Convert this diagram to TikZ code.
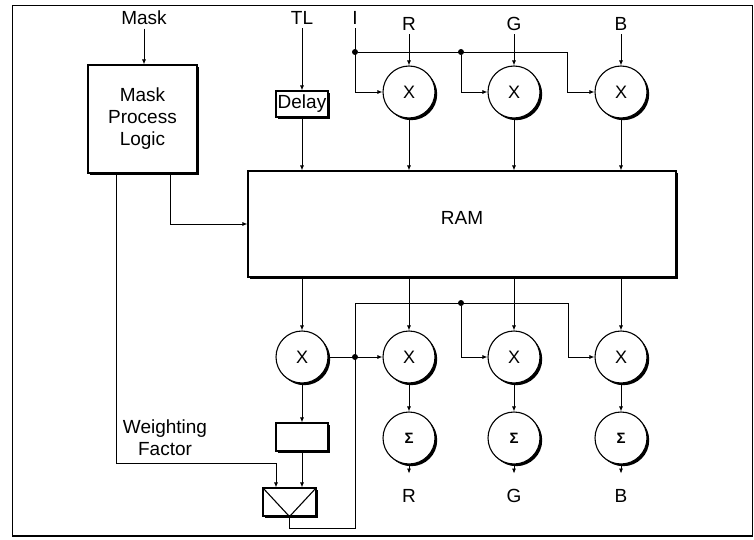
\documentclass[tikz,border=0pt]{standalone}
\usepackage{fontspec}
\setmainfont{Liberation Sans}
\usetikzlibrary{arrows.meta,shadows}
\begin{document}
\begin{tikzpicture}[x=1pt,y=-1pt,
  txt/.style={font=\fontsize{19}{22}\selectfont},
  arr/.style={-{Latex[length=5pt,width=4pt]}, line width=0.8pt},
  ln/.style={line width=0.8pt},
  shad/.style={drop shadow={shadow xshift=2.2pt,shadow yshift=-2.2pt,fill=black,opacity=1}},
  blk/.style={draw, fill=white, line width=1.1pt, shad, inner sep=0pt, font=\fontsize{19}{22}\selectfont, align=center},
  mul/.style={circle, draw, fill=white, line width=1.1pt, shad, minimum size=52pt, inner sep=0pt, font=\fontsize{18}{20}\selectfont},
  sig/.style={mul, font=\fontsize{15}{17}\selectfont\bfseries},
  dot/.style={circle, fill=black, inner sep=0pt, minimum size=6pt}
]
\useasboundingbox (0,0) rectangle (754,540);
\draw[line width=0.8pt] (12,5) rectangle (752,536);
\draw[line width=2.2pt] (12,536) -- (752,536);

% top labels
\node[txt] (mask) at (144,18) {Mask};
\node[txt] (tl) at (302,18) {TL};
\node[txt] (iin) at (355,18) {I};
\node[txt] (rin) at (409,24) {R};
\node[txt] (gin) at (514,24) {G};
\node[txt] (bin) at (621,24) {B};

% blocks
\node[blk, minimum width=109pt, minimum height=108pt] (mpl) at (142.5,119) {Mask\\Process\\Logic};
\node[blk, minimum width=52pt, minimum height=26pt] (delay) at (302,104) {Delay};
\node[blk, minimum width=428pt, minimum height=106pt, text depth=12pt] (ram) at (462,224) {RAM};

\node[mul] (cx1) at (409,92) {X};
\node[mul] (cx2) at (514,92) {X};
\node[mul] (cx3) at (621,92) {X};

\node[mul] (x0) at (302,357) {X};
\node[mul] (y1) at (409,357) {X};
\node[mul] (y2) at (514,357) {X};
\node[mul] (y3) at (621,357) {X};

\node[sig] (s1) at (409,438) {Σ};
\node[sig] (s2) at (514,438) {Σ};
\node[sig] (s3) at (621,438) {Σ};

\node[txt] (rout) at (409,496) {R};
\node[txt] (gout) at (514,496) {G};
\node[txt] (bout) at (621,496) {B};

\node[blk, minimum width=52pt, minimum height=28pt] (wbox) at (302,437) {};
\node[blk, minimum width=53pt, minimum height=28pt] (tri) at (289.5,502) {};
\draw[line width=1.1pt] (tri.north west) -- (tri.south) -- (tri.north east);

\node[txt, align=center] (wf) at (165,438) {Weighting\\Factor};

% dots / junctions
\node[dot] (d1) at (355,52) {};
\node[dot] (d2) at (461,52) {};
\node[dot] (d3) at (355,357) {};
\node[dot] (d4) at (461,303) {};
\coordinate (j3) at (567,52);
\coordinate (k3) at (568,303);
\coordinate (fb2) at (355,528);
\coordinate (wfc) at (276,463);

% top connectors
\draw[arr] (mask.south) -- (mask.south |- mpl.north);
\draw[arr] (tl.south) -- (delay.north);
\draw[arr] (delay.south) -- (delay.south |- ram.north);
\draw[arr] (iin.south) |- (cx1.west);
\draw[arr] (d1) -- (j3) |- (cx3.west);
\draw[arr] (d2) |- (cx2.west);
\draw[arr] (rin.south) -- (cx1.north);
\draw[arr] (gin.south) -- (cx2.north);
\draw[arr] (bin.south) -- (cx3.north);
\draw[arr] (cx1.south) -- (cx1.south |- ram.north);
\draw[arr] (cx2.south) -- (cx2.south |- ram.north);
\draw[arr] (cx3.south) -- (cx3.south |- ram.north);

% mask process logic outputs
\draw[arr] ([xshift=27.5pt]mpl.south) |- (ram.west);
\draw[arr] ([xshift=-26.5pt]mpl.south) |- (wfc) -- (wfc |- tri.north);

% below RAM
\draw[arr] (ram.south -| x0) -- (x0.north);
\draw[arr] (ram.south -| y1) -- (y1.north);
\draw[arr] (ram.south -| y2) -- (y2.north);
\draw[arr] (ram.south -| y3) -- (y3.north);
\draw[arr] (x0.south) -- (wbox.north);
\draw[arr] (wbox.south) -- (wbox.south |- tri.north);
\draw[arr] (x0.east) -- (y1.west);
\draw[arr] (tri.south) |- (fb2) -- (d4 -| d3) -- (k3) |- (y3.west);
\draw[arr] (d4) |- (y2.west);

\draw[arr] (y1.south) -- (s1.north);
\draw[arr] (y2.south) -- (s2.north);
\draw[arr] (y3.south) -- (s3.north);
\draw[arr] (s1.south) -- ++(0,9);
\draw[arr] (s2.south) -- ++(0,9);
\draw[arr] (s3.south) -- ++(0,9);
\end{tikzpicture}
\end{document}
